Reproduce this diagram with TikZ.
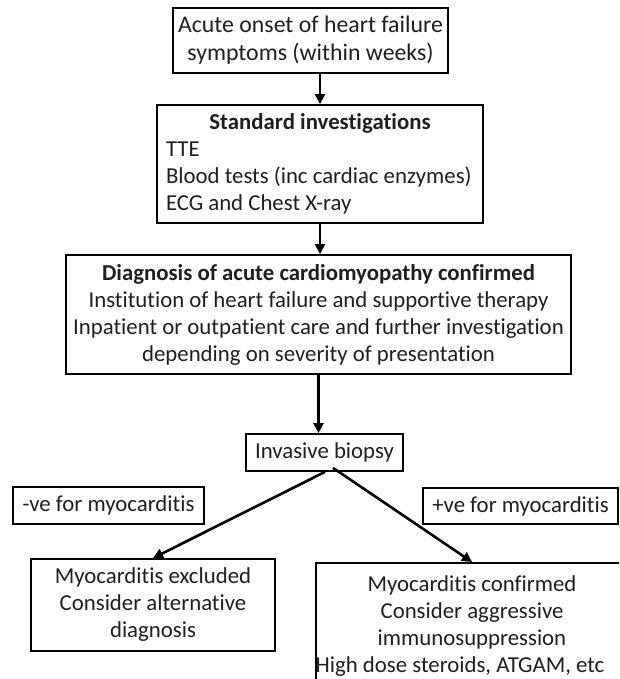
\documentclass[tikz,border=0pt]{standalone}
\usepackage{fontspec}
\setmainfont{Carlito}[Ligatures=NoCommon]
\usetikzlibrary{arrows.meta}
\begin{document}
\begin{tikzpicture}[x=1pt,y=-1pt,
  box/.style={draw=black, line width=1.8pt, rectangle, inner sep=0pt, align=center,
    font=\fontsize{22.8}{27}\selectfont, text=black!88},
  arr/.style={line width=2.6pt, -{Triangle[length=10pt,width=10pt]}},
]
\clip (0,0) rectangle (619,679);
\fill[white] (0,0) rectangle (619,679);

\node[box, minimum width=275pt, minimum height=65pt, font=\fontsize{23.8}{28}\selectfont] (b1) at (310.5,40.5)
  {Acute onset of heart failure\\symptoms (within weeks)};

\node[box, minimum width=326pt, minimum height=118pt, inner xsep=9pt, align=left] (b2) at (320,164)
  {\makebox[308pt]{\textbf{Standard investigations}}\\TTE\\Blood tests (inc cardiac enzymes)\\ECG and Chest X-ray};

\node[box, minimum width=505pt, minimum height=119pt] (b3) at (318.5,314.5)
  {\textbf{Diagnosis of acute cardiomyopathy confirmed}\\Institution of heart failure and supportive therapy\\Inpatient or outpatient care and further investigation\\depending on severity of presentation};

\node[box, minimum width=157pt, minimum height=37pt] (bio) at (324.5,452.5) {Invasive biopsy};

\node[box, minimum width=191pt, minimum height=37pt] (neg) at (108.5,505.5) {-ve for myocarditis};
\node[box, minimum width=195pt, minimum height=36pt] (pos) at (520.5,506) {+ve for myocarditis};

\node[box, minimum width=244pt, minimum height=92pt] (excl) at (153,605)
  {Myocarditis excluded\\Consider alternative\\diagnosis};

\node[box, minimum width=304pt, anchor=north, inner ysep=13pt] (conf) at (472,562)
  {Myocarditis confirmed\\Consider aggressive\\immunosuppression\\High dose steroids, ATGAM, etc\hspace*{24pt}};

\draw[arr] (b1.south -| b2.north) -- (b2.north);
\draw[arr] (b2.south) -- (b2.south |- b3.north);
\draw[arr] (b3.south) -- (bio.north -| b3.south);
\draw[arr] ([xshift=0.5pt]bio.south) -- (excl.north);
\draw[arr] ([xshift=8.5pt,yshift=4pt]bio.south) -- (conf.north);
\end{tikzpicture}
\end{document}
